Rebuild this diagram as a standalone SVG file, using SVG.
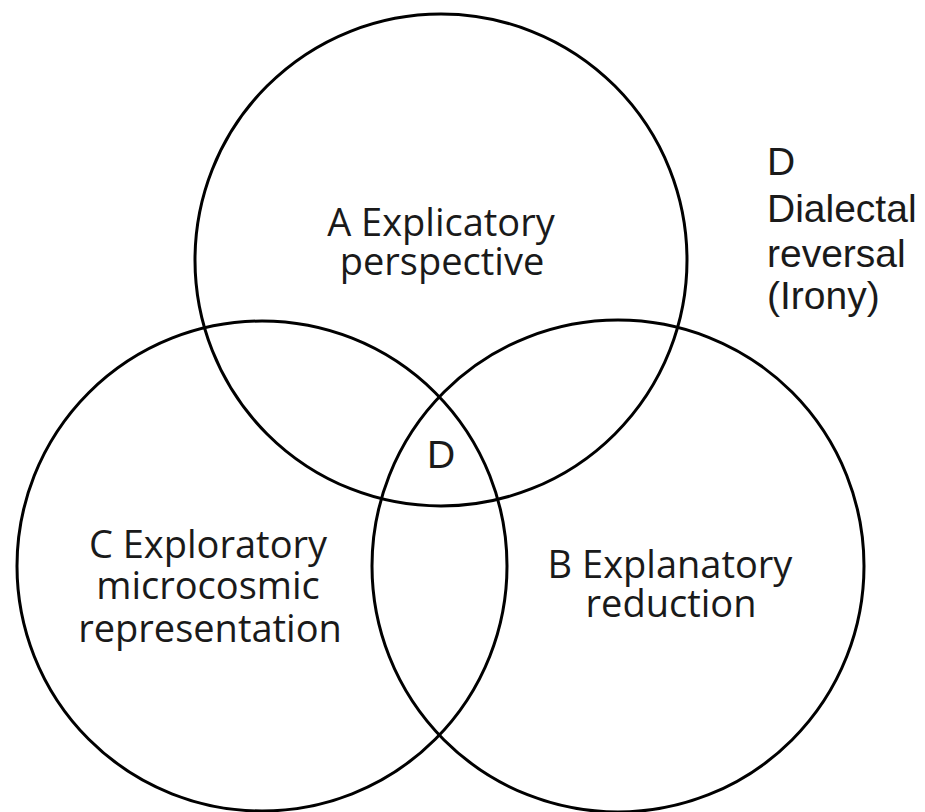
<svg xmlns="http://www.w3.org/2000/svg" width="925" height="812" viewBox="0 0 925 812">
<style>
.c{fill:none;stroke:#000;stroke-width:3}
.t{font-family:"Open Sans","Noto Sans",sans-serif;font-size:38px;fill:#1a1a1a;text-anchor:middle}
.a{font-family:"Liberation Sans",Arial,sans-serif;font-size:39px;fill:#1a1a1a}
</style>
<rect width="925" height="812" fill="#fff"/>
<g id="circleA"><circle class="c" cx="441" cy="260" r="246"/>
<text class="t" x="441" y="236">A Explicatory</text>
<text class="t" x="442" y="275">perspective</text></g>
<g id="circleC"><circle class="c" cx="262" cy="566" r="245"/>
<text class="t" x="208" y="558">C Exploratory</text>
<text class="t" x="208" y="599">microcosmic</text>
<text class="t" x="210" y="642">representation</text></g>
<g id="circleB"><circle class="c" cx="618" cy="566" r="246"/>
<text class="t" x="670" y="578">B Explanatory</text>
<text class="t" x="671" y="617">reduction</text></g>
<g id="D"><text class="a" x="441" y="468" text-anchor="middle">D</text></g>
<g id="legend">
<text class="a" x="767" y="175">D</text>
<text class="a" x="767" y="222">Dialectal</text>
<text class="a" x="767" y="267">reversal</text>
<text class="a" x="767" y="309">(Irony)</text></g>
</svg>
